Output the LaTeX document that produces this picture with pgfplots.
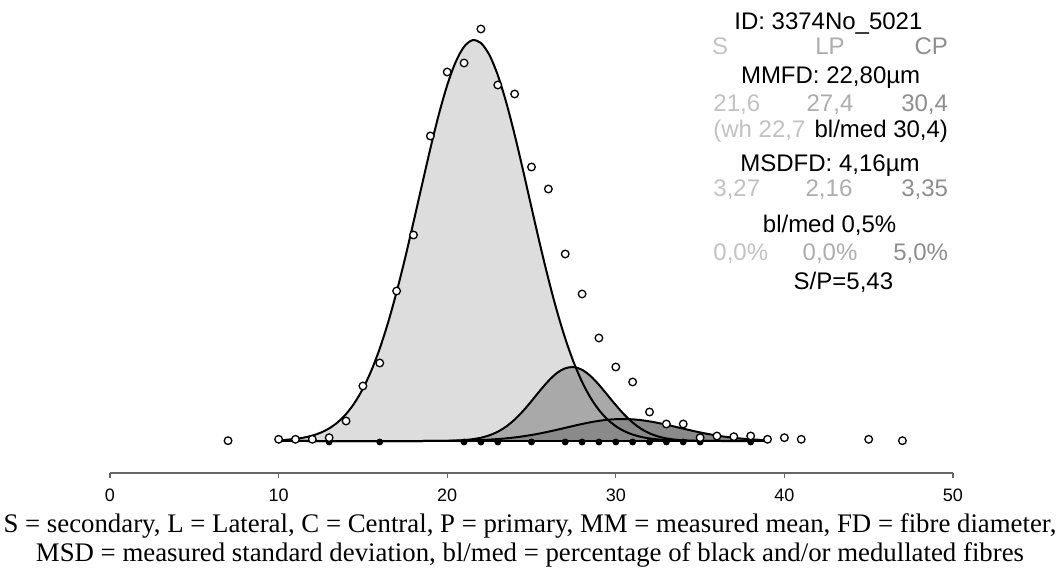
\documentclass[border=0pt]{standalone}
\usepackage{fontspec}
\setmainfont{Liberation Serif}
\newfontfamily\arial{Liberation Sans}
\usepackage{pgfplots}
\usepackage{pgfplotstable}
\pgfplotsset{compat=1.18}
\usepackage{xcolor}
\definecolor{fillS}{HTML}{DDDDDD}
\definecolor{fillL}{HTML}{A9A9A9}
\definecolor{fillC}{HTML}{8A8A8A}
\definecolor{txtS}{HTML}{C2C2C2}
\definecolor{txtL}{HTML}{ADADAD}
\definecolor{txtC}{HTML}{8E8E8E}

% fitted curves (height in px above the baseline)
\pgfplotstableread{
x y
10 0
10.5 1.26
11 2.10
11.5 3.40
12 5.39
12.5 8.35
13 12.6
13.5 18.65
14 26.9
14.5 38.0
15 52.3
15.5 70.4
16 92.5
16.5 118.8
17 149.1
17.5 182.7
18 218.8
18.5 255.8
19 292.3
19.5 326.3
20 355.8
20.5 378.9
21 394.3
21.5 400.8
22 398.0
22.5 386.1
23 365.9
23.5 338.7
24 306.3
24.5 270.6
25 233.5
25.5 196.9
26 162.2
26.5 130.5
27 102.6
27.5 78.8
28 59.1
28.5 43.3
29 31.0
29.5 21.7
30 14.8
30.5 9.87
31 6.44
31.5 4.10
32 2.55
32.5 1.55
33 0.92
33.5 0.53
34 0.30
35 0.09
36 0.02
37 0
39 0
}\curveS

\pgfplotstableread{
x y
10 0
19 0
20 0.21
20.5 0.45
21 0.92
21.5 1.77
22 3.25
22.5 5.65
23 9.29
23.5 14.5
24 21.4
24.5 30.0
25 39.9
25.5 50.3
26 60.0
26.5 67.9
27 72.7
27.5 73.9
28 71.2
28.5 65.0
29 56.2
29.5 46.1
30 35.9
30.5 26.4
31 18.5
31.5 12.2
32 7.66
32.5 4.56
33 2.57
33.5 1.37
34 0.69
34.5 0.33
35 0.15
36 0
39 0
}\curveL

\pgfplotstableread{
x y
10 0
19 0
20 0.18
21 0.43
22 0.95
22.5 1.36
23 1.92
23.5 2.64
24 3.55
24.5 4.67
25 6.00
25.5 7.55
26 9.29
26.5 11.17
27 13.15
27.5 15.13
28 17.02
28.5 18.73
29 20.16
29.5 21.22
30 21.84
30.5 21.99
31 21.65
31.5 20.85
32 19.63
32.5 18.08
33 16.28
33.5 14.34
34 12.35
34.5 10.40
35 8.57
35.5 6.91
36 5.44
36.5 4.19
37 3.16
37.5 2.33
38 1.68
38.5 1.18
39 0
}\curveC

% measured frequencies (open circles)
\pgfplotstableread{
x y
7 0.3
10 1.7
11 1.7
12 1.7
13 3.3
14 20
15 55
16 78
17 150
18 206
19 305
20 369
21 378
22 412
23 356
24 347
25 274
26 252
27 187
28 147
29 103
30 74
31 59
32 29
33 17
34 17
35 3.3
36 5
37 4.3
38 5
39 1.7
40 3.3
41 1.7
45 1.7
47 0.3
}\measured

% black / medullated fibres (filled dots on the baseline)
\pgfplotstableread{
x y
13 -1
16 -1
21 -1
22 -1
23 -1
25 -1
27 -1
28 -1
29 -1
30 -1
31 -1
32 -1
33 -1
34 -1
35 -1
38 -1
}\medul

\begin{document}
\begin{tikzpicture}
\begin{axis}[
  scale only axis, width=421.5pt, height=236.5pt,
  xmin=0, xmax=50, ymin=-32, ymax=441,
  axis x line*=bottom, axis y line=none,
  xtick={0,10,20,30,40,50},
  x axis line style={draw=black!60, line width=0.8pt, -},
  tick align=outside, major tick length=2.5pt,
  tick style={draw=black!60, line width=0.6pt},
  xticklabel style={font=\arial\fontsize{9}{10}\selectfont, inner sep=0pt, yshift=-5.5pt},
  /pgf/number format/assume math mode=true,
  clip=false,
]
\addplot[draw=none, fill=fillS, smooth] table[x=x, y=y] {\curveS};
\addplot[draw=none, fill=fillL, smooth] table[x=x, y=y] {\curveL};
\addplot[draw=none, fill=fillC, smooth] table[x=x, y=y] {\curveC};
\addplot[black, line width=1pt, smooth] table[x=x, y=y] {\curveS};
\addplot[black, line width=1pt, smooth] table[x=x, y=y] {\curveL};
\addplot[black, line width=1pt, smooth] table[x=x, y=y] {\curveC};
\addplot[black, line width=1.2pt] coordinates {(10,0) (39,0)};
\addplot[only marks, mark=*, mark size=1.5pt, black] table[x=x, y=y] {\medul};
\addplot[only marks, mark=*, mark size=1.9pt,
  mark options={fill=white, draw=black, line width=0.65pt}] table[x=x, y=y] {\measured};
\end{axis}

% summary block
\begin{scope}[every node/.style={font=\arial\fontsize{12}{14}\selectfont, inner sep=0pt}]
\node[anchor=base] at (359.2pt,221.85pt) {ID: 3374No\_5021};
\node[anchor=base west, text=txtS] at (300.8pt,209pt) {S};
\node[anchor=base, text=txtL] at (360pt,209pt) {LP};
\node[anchor=base east, text=txtC] at (419.2pt,209pt) {CP};
\node[anchor=base] at (360.3pt,194.85pt) {MMFD: 22,80µm};
\node[anchor=base west, text=txtS] at (301.5pt,180.65pt) {21,6};
\node[anchor=base, text=txtL] at (360pt,180.65pt) {27,4};
\node[anchor=base east, text=txtC] at (419.2pt,180.65pt) {30,4};
\node[anchor=base west, text=txtS] at (301.5pt,167.75pt) {(wh 22,7};
\node[anchor=base east] at (419.2pt,167.75pt) {bl/med 30,4)};
\node[anchor=base] at (360pt,150.65pt) {MSDFD: 4,16µm};
\node[anchor=base west, text=txtS] at (301.5pt,138.15pt) {3,27};
\node[anchor=base, text=txtL] at (359.5pt,138.15pt) {2,16};
\node[anchor=base east, text=txtC] at (419.2pt,138.15pt) {3,35};
\node[anchor=base] at (359.8pt,120.35pt) {bl/med 0,5\%};
\node[anchor=base west, text=txtS] at (301.5pt,106.15pt) {0,0\%};
\node[anchor=base, text=txtL] at (360pt,106.15pt) {0,0\%};
\node[anchor=base east, text=txtC] at (419.2pt,106.15pt) {5,0\%};
\node[anchor=base] at (366.7pt,91.5pt) {S/P=5,43};
\end{scope}

% caption
\node[anchor=base, font=\fontsize{13.4}{15}\selectfont, inner sep=0pt] at (210pt,-30pt)
  {S = secondary, L = Lateral, C = Central, P = primary, MM = measured mean, FD = fibre diameter,};
\node[anchor=base, font=\fontsize{13.4}{15}\selectfont, inner sep=0pt] at (210pt,-44.5pt)
  {MSD = measured standard deviation, bl/med = percentage of black and/or medullated fibres};

\pgfresetboundingbox
\path (-55pt,-49pt) rectangle (475pt,236.5pt);
\end{tikzpicture}
\end{document}
